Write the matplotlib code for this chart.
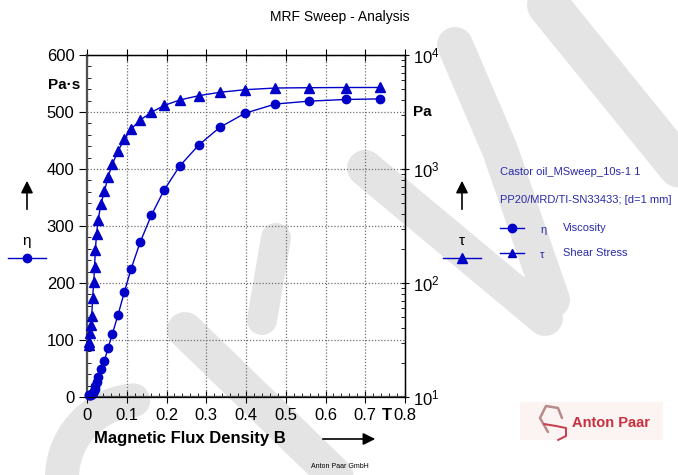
import numpy as np
import matplotlib.pyplot as plt
from matplotlib.lines import Line2D
from matplotlib.patches import Rectangle
from matplotlib.ticker import MultipleLocator, LogLocator, LogFormatterSciNotation, NullFormatter

plt.rcParams['font.family'] = ['Liberation Sans', 'DejaVu Sans']

# magnetic flux density B [T]
flux_b = [0.004, 0.006, 0.008, 0.010, 0.012, 0.014, 0.017, 0.019, 0.021, 0.024,
          0.028, 0.035, 0.044, 0.053, 0.064, 0.078, 0.094, 0.111, 0.134, 0.162,
          0.194, 0.233, 0.281, 0.334, 0.398, 0.474, 0.558, 0.651, 0.736]
# viscosity eta [Pa.s]
viscosity = [2.9, 3.1, 3.6, 4.3, 5.1, 7.3, 10.3, 13.9, 19.5, 26.7,
             35.7, 49.3, 64, 86, 111, 144, 184, 225, 272, 319,
             363, 405, 442, 473, 498, 514, 519, 522, 523]
# shear stress tau [Pa]
shear_stress = [28.6, 30.5, 36.2, 42.8, 51.3, 73.4, 103, 139, 195, 267,
                357, 493, 641, 856, 1107, 1439, 1822, 2244, 2690, 3144,
                3606, 4027, 4395, 4708, 4962, 5134, 5165, 5186, 5190]

BLUE = '#0000c8'
TXT_BLUE = '#2a2aa8'
WM = '#e4e4e4'
W, H = 678, 475


def fp(x, y):
    # pixel position -> figure fraction
    return x / W, 1 - y / H


def stroke(fig, pts, width, color=WM, z=-5):
    xs = [p[0] / W for p in pts]
    ys = [1 - p[1] / H for p in pts]
    fig.add_artist(Line2D(xs, ys, transform=fig.transFigure, color=color, lw=width * 0.72,
                          solid_capstyle='round', solid_joinstyle='round', zorder=z))


fig = plt.figure(figsize=(W / 100, H / 100), dpi=100)

# background watermark (rough)
stroke(fig, [(185, 330), (350, 490)], 36)
stroke(fig, [(365, 168), (545, 318)], 36)
stroke(fig, [(455, 45), (500, 150), (552, 300)], 36)
stroke(fig, [(548, 5), (690, 180)], 42)
stroke(fig, [(276, 238), (262, 320)], 30)
t = np.linspace(np.radians(95), np.radians(215), 40)
stroke(fig, list(zip(140 + 78 * np.cos(t), 478 - 78 * np.sin(t))), 34)

ax = fig.add_axes([87 / W, 78 / H, 318 / W, 342 / H])
ax.patch.set_visible(False)
ax2 = ax.twinx()

ax.plot(flux_b, viscosity, '-o', color=BLUE, ms=6, lw=1, zorder=3, clip_on=False)
ax2.plot(flux_b, shear_stress, '-^', color=BLUE, ms=7, lw=1, zorder=3, clip_on=False)

ax.set_xlim(0, 0.8)
ax.set_ylim(0, 600)
ax2.set_yscale('log')
ax2.set_ylim(10, 1e4)

ax.xaxis.set_minor_locator(MultipleLocator(0.02))
ax.yaxis.set_major_locator(MultipleLocator(100))
ax.yaxis.set_minor_locator(MultipleLocator(20))
ax.set_xticks(np.arange(0, 0.81, 0.1))
ax.set_xticklabels(['0', '0.1', '0.2', '0.3', '0.4', '0.5', '0.6', '0.7', '0.8'])
ax2.yaxis.set_major_locator(LogLocator(base=10))
ax2.yaxis.set_minor_locator(LogLocator(base=10, subs=np.arange(2, 10)))
ax2.yaxis.set_major_formatter(LogFormatterSciNotation())
ax2.yaxis.set_minor_formatter(NullFormatter())

ax.grid(True, which='major', linestyle=(0, (1, 1.5)), color='#707070', lw=0.9)
ax.set_axisbelow(True)

for s in ['left', 'bottom']:
    ax.spines[s].set_color('#505050')
    ax.spines[s].set_linewidth(1.6)
ax.spines['top'].set_linewidth(1.0)
ax2.spines['right'].set_linewidth(1.0)
ax2.spines['left'].set_visible(False)

ax.tick_params(axis='y', which='major', direction='out', length=6, labelsize=12, pad=3)
ax.tick_params(axis='y', which='minor', direction='in', length=3)
ax.tick_params(axis='x', which='major', direction='inout', length=8, labelsize=12, pad=4, top=True)
ax.tick_params(axis='x', which='minor', direction='in', length=3)
ax2.tick_params(axis='y', which='major', direction='inout', length=6, labelsize=12, pad=3)
ax2.tick_params(axis='y', which='minor', direction='in', length=3)

# title and unit labels
fig.text(*fp(340, 17), 'MRF Sweep - Analysis', ha='center', va='center', fontsize=10)
fig.text(*fp(80, 85), 'Pa·s', ha='right', va='center', fontsize=11, fontweight='bold')
fig.text(*fp(413, 112), 'Pa', ha='left', va='center', fontsize=11, fontweight='bold')
fig.text(*fp(387, 416), 'T', ha='center', va='center', fontsize=12, fontweight='bold')
fig.text(*fp(190, 439), 'Magnetic Flux Density B', ha='center', va='center',
         fontsize=12, fontweight='bold')
ax.annotate('', xy=fp(378, 439), xytext=fp(320, 439), xycoords='figure fraction',
            arrowprops=dict(arrowstyle='-|>', color='black', lw=1.2, mutation_scale=18))

# axis symbols with arrows
for xs, sym, mk in [(27, 'η', 'o'), (462, 'τ', '^')]:
    ax.annotate('', xy=fp(xs, 178), xytext=fp(xs, 212), xycoords='figure fraction',
                arrowprops=dict(arrowstyle='-|>', color='black', lw=1.2, mutation_scale=18))
    fig.text(*fp(xs, 241), sym, ha='center', va='center', fontsize=11)
    fig.add_artist(Line2D([(xs - 19) / W, (xs + 19) / W], [1 - 258 / H] * 2,
                          transform=fig.transFigure, color=BLUE, lw=1))
    fig.add_artist(Line2D([xs / W], [1 - 258 / H], transform=fig.transFigure,
                          color=BLUE, marker=mk, ms=7 if mk == '^' else 6))

# legend block
fig.text(*fp(500, 172), 'Castor oil_MSweep_10s-1 1', fontsize=8, color=TXT_BLUE, va='center')
fig.text(*fp(500, 200), 'PP20/MRD/TI-SN33433; [d=1 mm]', fontsize=8, color=TXT_BLUE, va='center')
for yy, sym, name, mk in [(228, 'η', 'Viscosity', 'o'), (253, 'τ', 'Shear Stress', '^')]:
    fig.add_artist(Line2D([500 / W, 524 / W], [1 - yy / H] * 2, transform=fig.transFigure,
                          color=BLUE, lw=1))
    fig.add_artist(Line2D([512 / W], [1 - yy / H], transform=fig.transFigure, color=BLUE,
                          marker=mk, ms=6))
    fig.text(*fp(540, yy + 2), sym, fontsize=8, color=TXT_BLUE, va='center')
    fig.text(*fp(563, yy), name, fontsize=8, color=TXT_BLUE, va='center')

# logo
fig.add_artist(Rectangle(fp(520, 440), 143 / W, 38 / H, transform=fig.transFigure,
                         fc='#fcf3f3', ec='none', zorder=1))
stroke(fig, [(548, 432), (540, 418), (546, 406), (558, 408), (562, 418)], 2.5, '#b88a8a', 2)
stroke(fig, [(544, 424), (556, 426), (566, 428), (566, 436), (558, 440)], 2.0, '#c84050', 2)
fig.text(*fp(572, 423), 'Anton Paar', fontsize=10.5, fontweight='bold', color='#c83040',
         va='center', zorder=3)
fig.text(*fp(340, 466), 'Anton Paar GmbH', ha='center', va='center', fontsize=5)

fig.savefig('out.png', dpi=100)
